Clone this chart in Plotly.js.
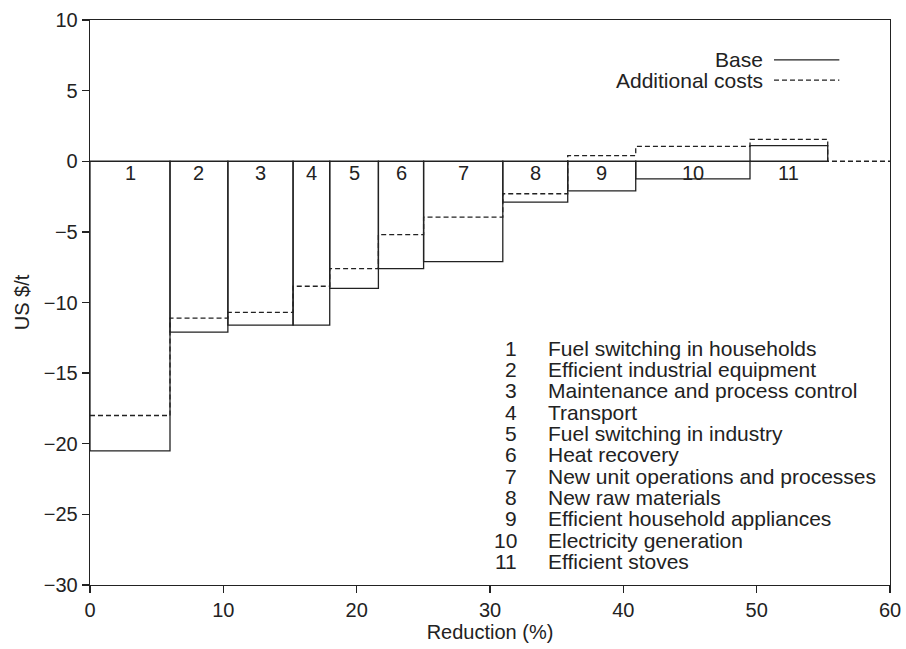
<!DOCTYPE html>
<html>
<head>
<meta charset="utf-8">
<script src="https://cdn.plot.ly/plotly-3.0.1.min.js"></script>
<style>html,body{margin:0;padding:0;background:#fff;}#chart{width:906px;height:649px;}</style>
</head>
<body>
<div id="chart"></div>
<script>
// Cumulative reduction (%) boundaries of each option
const reductionEdges = [0, 6, 10.34, 15.23, 17.98, 21.63, 25.02, 30.96, 35.83, 40.93, 49.5, 55.33];
// Base cost (US $/t) per option
const baseCost = [-20.5, -12.1, -11.6, -11.6, -9.0, -7.6, -7.1, -2.9, -2.1, -1.25, 1.1];
// Cost including additional costs (US $/t)
const additionalCost = [-18.0, -11.1, -10.7, -8.85, -7.6, -5.2, -3.95, -2.3, 0.4, 1.05, 1.55];
const optionNumbers = ['1','2','3','4','5','6','7','8','9','10','11'];
const optionNames = [
  'Fuel switching in households',
  'Efficient industrial equipment',
  'Maintenance and process control',
  'Transport',
  'Fuel switching in industry',
  'Heat recovery',
  'New unit operations and processes',
  'New raw materials',
  'Efficient household appliances',
  'Electricity generation',
  'Efficient stoves'
];
const xTicks = [0, 10, 20, 30, 40, 50, 60];
const yTicks = [-30, -25, -20, -15, -10, -5, 0, 5, 10];

const FONT = 'Liberation Sans, Arial, Helvetica, sans-serif';
const INK = '#222';

const mids = [], widths = [];
for (let i = 0; i < baseCost.length; i++) {
  mids.push((reductionEdges[i] + reductionEdges[i+1]) / 2);
  widths.push(reductionEdges[i+1] - reductionEdges[i]);
}

const baseTrace = {
  type: 'bar', x: mids, y: baseCost, width: widths, base: 0,
  marker: {color: 'rgba(0,0,0,0)', line: {color: INK, width: 1.3}},
  hoverinfo: 'skip', showlegend: false
};
const addTrace = {
  type: 'scatter', mode: 'lines',
  x: reductionEdges.concat([60]),
  y: additionalCost.concat([0, 0]),
  line: {shape: 'hv', color: INK, width: 1.3, dash: '5px,3px'},
  hoverinfo: 'skip', showlegend: false
};

const annotations = [];
// numbers inside bars
for (let i = 0; i < optionNumbers.length; i++) {
  annotations.push({x: mids[i], y: -0.8, xref: 'x', yref: 'y', text: optionNumbers[i],
    showarrow: false, xanchor: 'center', yanchor: 'middle', font: {family: FONT, size: 20, color: INK}});
}
// key list
for (let i = 0; i < optionNames.length; i++) {
  const yy = -13.23 - i * 1.51;
  annotations.push({x: 32.2, y: yy, xref: 'x', yref: 'y', text: optionNumbers[i], showarrow: false,
    xanchor: 'right', yanchor: 'middle', font: {family: FONT, size: 21, color: INK}});
  annotations.push({x: 34.2, y: yy, xref: 'x', yref: 'y', text: optionNames[i], showarrow: false,
    xanchor: 'left', yanchor: 'middle', font: {family: FONT, size: 21, color: INK}});
}
// legend
annotations.push({x: 50.6, y: 7.17, xref: 'x', yref: 'y', text: 'Base', showarrow: false,
  xanchor: 'right', yanchor: 'middle', font: {family: FONT, size: 21, color: INK}});
annotations.push({x: 50.6, y: 5.75, xref: 'x', yref: 'y', text: 'Additional costs', showarrow: false,
  xanchor: 'right', yanchor: 'middle', font: {family: FONT, size: 21, color: INK}});

const shapes = [
  {type: 'line', xref: 'x', yref: 'y', x0: 51.3, x1: 56.2, y0: 7.17, y1: 7.17, line: {color: INK, width: 1.3}},
  {type: 'line', xref: 'x', yref: 'y', x0: 51.3, x1: 56.2, y0: 5.75, y1: 5.75, line: {color: INK, width: 1.3, dash: '5px,3px'}}
];

const axisCommon = {
  showline: true, mirror: true, linecolor: INK, linewidth: 1.3,
  ticks: 'outside', ticklen: 7, tickwidth: 1.3, tickcolor: INK,
  showgrid: false, zeroline: false,
  tickfont: {family: FONT, size: 20, color: INK}
};

const layout = {
  width: 906, height: 649,
  margin: {l: 90, r: 16, t: 20, b: 64},
  paper_bgcolor: '#fff', plot_bgcolor: '#fff',
  xaxis: Object.assign({}, axisCommon, {
    range: [0, 60], tickvals: xTicks, ticktext: xTicks.map(String),
    title: {text: 'Reduction (%)', font: {family: FONT, size: 20, color: INK}, standoff: 4}
  }),
  yaxis: Object.assign({}, axisCommon, {
    range: [-30, 10], tickvals: yTicks,
    title: {text: 'US $/t', font: {family: FONT, size: 20, color: INK}, standoff: 8}
  }),
  annotations: annotations,
  shapes: shapes,
  bargap: 0,
  showlegend: false
};

Plotly.newPlot('chart', [baseTrace, addTrace], layout, {staticPlot: true, displayModeBar: false});
</script>
</body>
</html>
